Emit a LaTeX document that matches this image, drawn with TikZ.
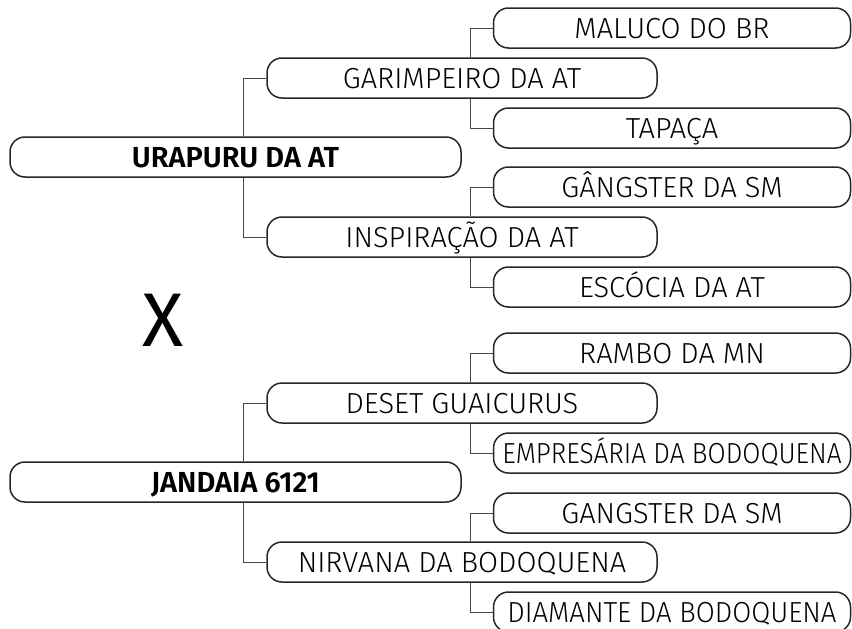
\documentclass[tikz,border=0pt]{standalone}
\usepackage{fontspec}
\setmainfont{Fira Sans}[UprightFont={* Light}, BoldFont={* SemiBold}]
\newfontface\xfont{Fira Sans}
\begin{document}
\begin{tikzpicture}[x=1pt,y=-1pt,
  box/.style={draw=black!85, line width=1.5pt, rounded corners=15pt, minimum height=40pt,
    inner sep=0pt, text height=20pt, text depth=0pt, align=center, font=\fontsize{29}{32}\selectfont},
  rootbox/.style={box, minimum width=451pt, font=\fontsize{29}{32}\selectfont\bfseries},
  midbox/.style={box, minimum width=390pt},
  leafbox/.style={box, minimum width=357pt},
  conn/.style={draw=black!72, line width=1pt}]
\useasboundingbox (0,0) rectangle (852,629);
% upper tree
\node[rootbox] (r1) at (235.5,157) {URAPURU DA AT};
\node[midbox] (m1) at (462,78) {GARIMPEIRO DA AT};
\node[midbox] (m2) at (462,237) {INSPIRAÇÃO DA AT};
\node[leafbox] (l1) at (672,28) {MALUCO DO BR};
\node[leafbox] (l2) at (672,128) {TAPAÇA};
\node[leafbox] (l3) at (672,187) {GÂNGSTER DA SM};
\node[leafbox] (l4) at (672,287) {ESCÓCIA DA AT};
% lower tree
\node[rootbox] (r2) at (235.5,482) {JANDAIA 6121};
\node[midbox] (m3) at (462,403) {DESET GUAICURUS};
\node[midbox] (m4) at (462,562) {NIRVANA DA BODOQUENA};
\node[leafbox] (l5) at (672,353) {RAMBO DA MN};
\node[leafbox] (l6) at (672,453) {\addfontfeature{FakeStretch=0.905}EMPRESÁRIA DA BODOQUENA};
\node[leafbox] (l7) at (672,513) {GANGSTER DA SM};
\node[leafbox] (l8) at (672,612) {\addfontfeature{FakeStretch=0.95}DIAMANTE DA BODOQUENA};
% X
\node[inner sep=0pt, font=\xfont\fontsize{76}{76}\selectfont] (x) at (163,320) {X};
% connector columns
\coordinate (ca) at (243,0);
\coordinate (cb) at (470,0);
\draw[conn] (ca |- r1.north) |- (m1.west);
\draw[conn] (ca |- r1.south) |- (m2.west);
\draw[conn] (cb |- m1.north) |- (l1.west);
\draw[conn] (cb |- m1.south) |- (l2.west);
\draw[conn] (cb |- m2.north) |- (l3.west);
\draw[conn] (cb |- m2.south) |- (l4.west);
\draw[conn] (ca |- r2.north) |- (m3.west);
\draw[conn] (ca |- r2.south) |- (m4.west);
\draw[conn] (cb |- m3.north) |- (l5.west);
\draw[conn] (cb |- m3.south) |- (l6.west);
\draw[conn] (cb |- m4.north) |- (l7.west);
\draw[conn] (cb |- m4.south) |- (l8.west);
\end{tikzpicture}
\end{document}
